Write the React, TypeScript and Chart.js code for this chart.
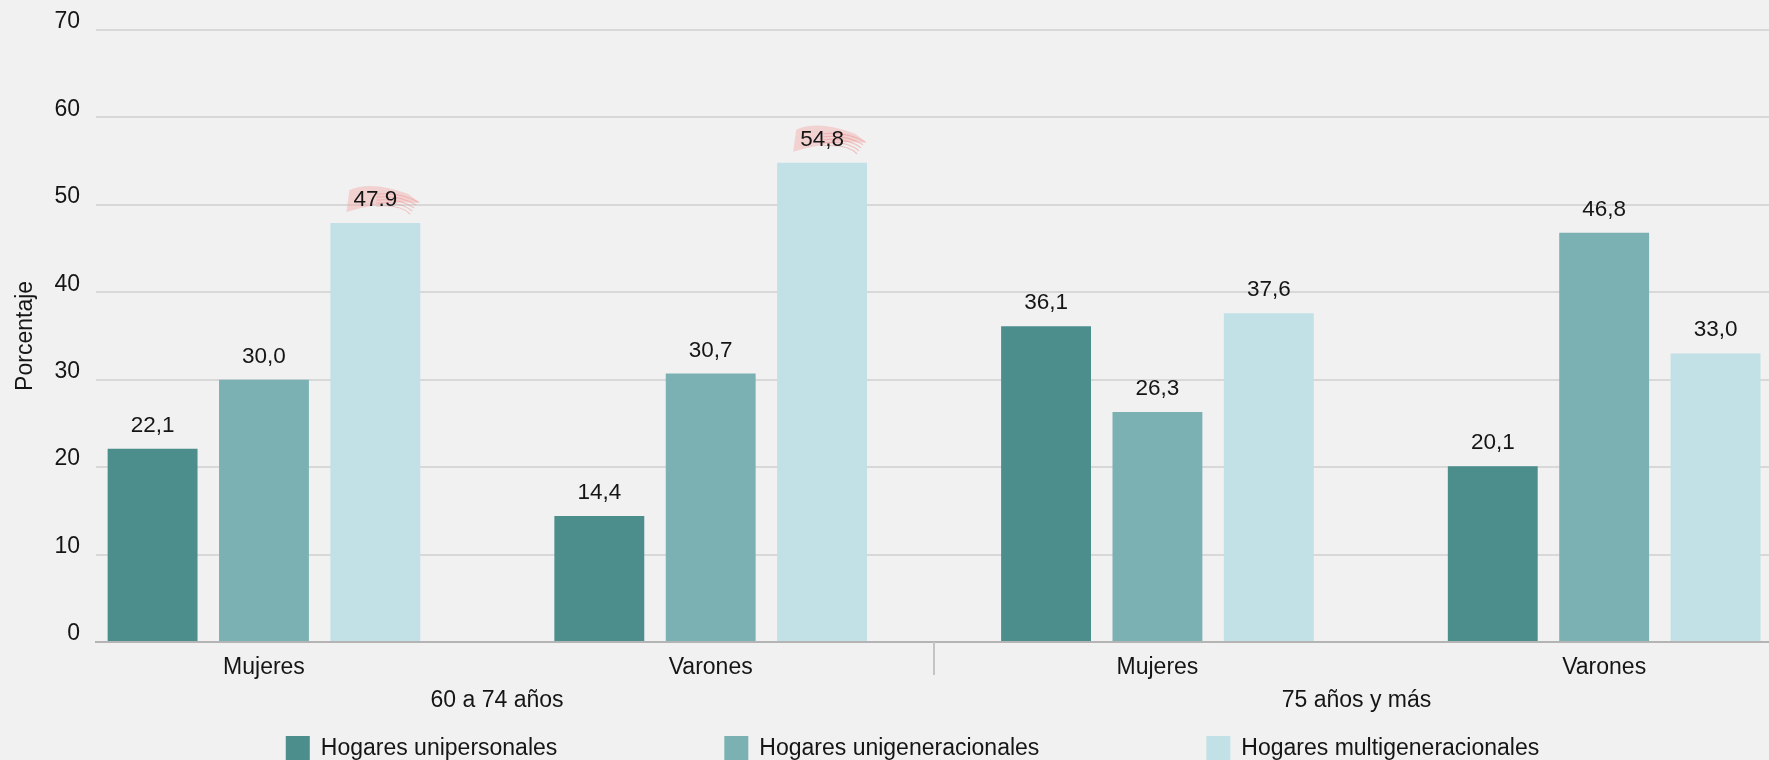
import React, { useEffect, useRef } from 'react';
import { Chart, registerables } from 'chart.js';

Chart.register(...registerables);

// ---- Data ----
const categories = ['Mujeres', 'Varones', 'Mujeres', 'Varones'];
const groupLabels = ['60 a 74 años', '75 años y más'];
const seriesNames = ['Hogares unipersonales', 'Hogares unigeneracionales', 'Hogares multigeneracionales'];
const unipersonales = [22.1, 14.4, 36.1, 20.1];
const unigeneracionales = [30.0, 30.7, 26.3, 46.8];
const multigeneracionales = [47.9, 54.8, 37.6, 33.0];
const unipersonalesLabels = ['22,1', '14,4', '36,1', '20,1'];
const unigeneracionalesLabels = ['30,0', '30,7', '26,3', '46,8'];
const multigeneracionalesLabels = ['47.9', '54,8', '37,6', '33,0'];
const highlightedMulti = [true, true, false, false];
const yTicks = [0, 10, 20, 30, 40, 50, 60, 70];
const yTitle = 'Porcentaje';

const seriesValues = [unipersonales, unigeneracionales, multigeneracionales];
const seriesLabels = [unipersonalesLabels, unigeneracionalesLabels, multigeneracionalesLabels];
const seriesHighlights = [[false, false, false, false], [false, false, false, false], highlightedMulti];
const colors = ['#4b8e8c', '#7bb1b3', '#c1e1e6'];

// visible index range of the x axis (the original plot is cropped at both sides)
const X_MIN = -0.376;
const X_MAX = 3.369;

const FONT = '"Liberation Sans", Arial, Helvetica, sans-serif';
const TEXT = '#151515';

function drawHighlight(ctx: CanvasRenderingContext2D, left: number, right: number, base: number) {
  const x0 = left - 7;
  const x1 = right + 23;
  ctx.save();
  ctx.fillStyle = 'rgba(243,170,170,0.45)';
  ctx.beginPath();
  ctx.moveTo(x0, base + 6);
  ctx.lineTo(x0 + 3, base - 16);
  ctx.quadraticCurveTo(x0 + 25, base - 26, x1 - 12, base - 12);
  ctx.lineTo(x1, base - 3);
  ctx.quadraticCurveTo(x1 - 35, base - 6, x0, base + 6);
  ctx.closePath();
  ctx.fill();
  ctx.strokeStyle = 'rgba(236,140,140,0.45)';
  ctx.lineWidth = 1.2;
  for (let k = 0; k < 5; k++) {
    ctx.beginPath();
    ctx.moveTo(x0 + 30, base - 12 + k * 3);
    ctx.quadraticCurveTo(x1 - 20, base - 14 + k * 3, x1 - 2 - k * 2, base - 4 + k * 3);
    ctx.stroke();
  }
  ctx.restore();
}

const annotationsPlugin = {
  id: 'annotations',
  afterDatasetsDraw(chart: any) {
    const ctx = chart.ctx as CanvasRenderingContext2D;
    ctx.save();
    ctx.font = `22.5px ${FONT}`;
    ctx.textAlign = 'center';
    ctx.textBaseline = 'alphabetic';
    chart.data.datasets.forEach((_: any, s: number) => {
      const meta = chart.getDatasetMeta(s);
      meta.data.forEach((bar: any, i: number) => {
        const txt = seriesLabels[s][i];
        const { x, y } = bar.getProps(['x', 'y'], true);
        const base = y - 17;
        if (seriesHighlights[s][i]) {
          const w = ctx.measureText(txt).width;
          drawHighlight(ctx, x - w / 2, x + w / 2, base);
        }
        ctx.fillStyle = TEXT;
        ctx.fillText(txt, x, base);
      });
    });
    ctx.restore();
  },
  afterDraw(chart: any) {
    const ctx = chart.ctx as CanvasRenderingContext2D;
    const xs = chart.scales.x;
    const area = chart.chartArea;
    ctx.save();
    // group separators
    ctx.strokeStyle = '#c4c4c4';
    ctx.lineWidth = 2;
    for (let g = 1; g < groupLabels.length; g++) {
      const px = Math.round(xs.getPixelForValue(g * 2 - 0.5));
      ctx.beginPath();
      ctx.moveTo(px, area.bottom);
      ctx.lineTo(px, area.bottom + 33);
      ctx.stroke();
    }
    // group labels
    ctx.font = `23px ${FONT}`;
    ctx.fillStyle = TEXT;
    ctx.textAlign = 'center';
    ctx.textBaseline = 'alphabetic';
    groupLabels.forEach((label, g) => {
      let a = xs.getPixelForValue(g * 2 - 0.5);
      let b = xs.getPixelForValue(g * 2 + 1.5);
      a = Math.max(a, area.left - 36);
      b = Math.min(b, area.right + 10);
      ctx.fillText(label, (a + b) / 2, area.bottom + 65);
    });
    // legend
    const box = 24;
    const gapText = 11;
    const gapItem = 167;
    const widths = chart.data.datasets.map((d: any) => box + gapText + ctx.measureText(d.label).width);
    const total = widths.reduce((p: number, c: number) => p + c, 0) + gapItem * (widths.length - 1);
    let cx = (area.left + area.right) / 2 - 20 - total / 2;
    ctx.textAlign = 'left';
    chart.data.datasets.forEach((d: any, s: number) => {
      ctx.fillStyle = d.backgroundColor;
      ctx.fillRect(cx, area.bottom + 94, box, box);
      ctx.fillStyle = TEXT;
      ctx.fillText(d.label, cx + box + gapText, area.bottom + 113);
      cx += widths[s] + gapItem;
    });
    ctx.restore();
  },
};

export default function App() {
  const ref = useRef<HTMLCanvasElement | null>(null);
  useEffect(() => {
    if (!ref.current) return;
    const chart = new Chart(ref.current, {
      type: 'bar',
      data: {
        datasets: seriesValues.map((vals, s) => ({
          label: seriesNames[s],
          data: vals.map((v, i) => ({ x: i, y: v })),
          backgroundColor: colors[s],
          borderWidth: 0,
          categoryPercentage: 0.748,
          barPercentage: 0.807,
        })),
      },
      options: {
        animation: false,
        responsive: false,
        maintainAspectRatio: false,
        events: [],
        layout: { padding: { top: 26, right: 0, bottom: 0, left: 0 } },
        plugins: { legend: { display: false }, tooltip: { enabled: false } },
        scales: {
          x: {
            type: 'linear',
            offset: false,
            bounds: 'data',
            min: X_MIN,
            max: X_MAX,
            grid: { display: false, drawTicks: false, offset: false },
            border: { display: true, color: '#b4b4b4', width: 2 },
            afterBuildTicks: (s: any) => {
              s.min = X_MIN;
              s.max = X_MAX;
              s.ticks = categories.map((_, i) => ({ value: i }));
            },
            ticks: {
              autoSkip: false,
              maxRotation: 0,
              minRotation: 0,
              padding: 12,
              color: TEXT,
              font: { family: FONT, size: 23 },
              callback: (v: any) => categories[v] ?? '',
            },
            afterFit: (s: any) => {
              s.height = 118;
            },
          },
          y: {
            min: 0,
            max: 70,
            afterBuildTicks: (s: any) => {
              s.ticks = yTicks.map((v) => ({ value: v }));
            },
            grid: {
              color: (c: any) => (c.tick && c.tick.value === 0 ? '#b4b4b4' : '#d8d8d8'),
              lineWidth: 2,
              drawTicks: false,
            },
            border: { display: false },
            ticks: {
              padding: 16,
              labelOffset: -8,
              color: TEXT,
              font: { family: FONT, size: 23 },
            },
            title: {
              display: true,
              text: yTitle,
              color: TEXT,
              font: { family: FONT, size: 23 },
              padding: { top: 12, bottom: 0 },
            },
            afterFit: (s: any) => {
              s.width = 96;
            },
          },
        },
      } as any,
      plugins: [annotationsPlugin],
    });
    return () => chart.destroy();
  }, []);
  return (
    <div style={{ position: 'fixed', left: 0, top: 0, width: 1769, height: 760, background: '#f1f1f1', overflow: 'hidden' }}>
      <canvas ref={ref} width={1769} height={760} style={{ display: 'block' }} />
    </div>
  );
}
